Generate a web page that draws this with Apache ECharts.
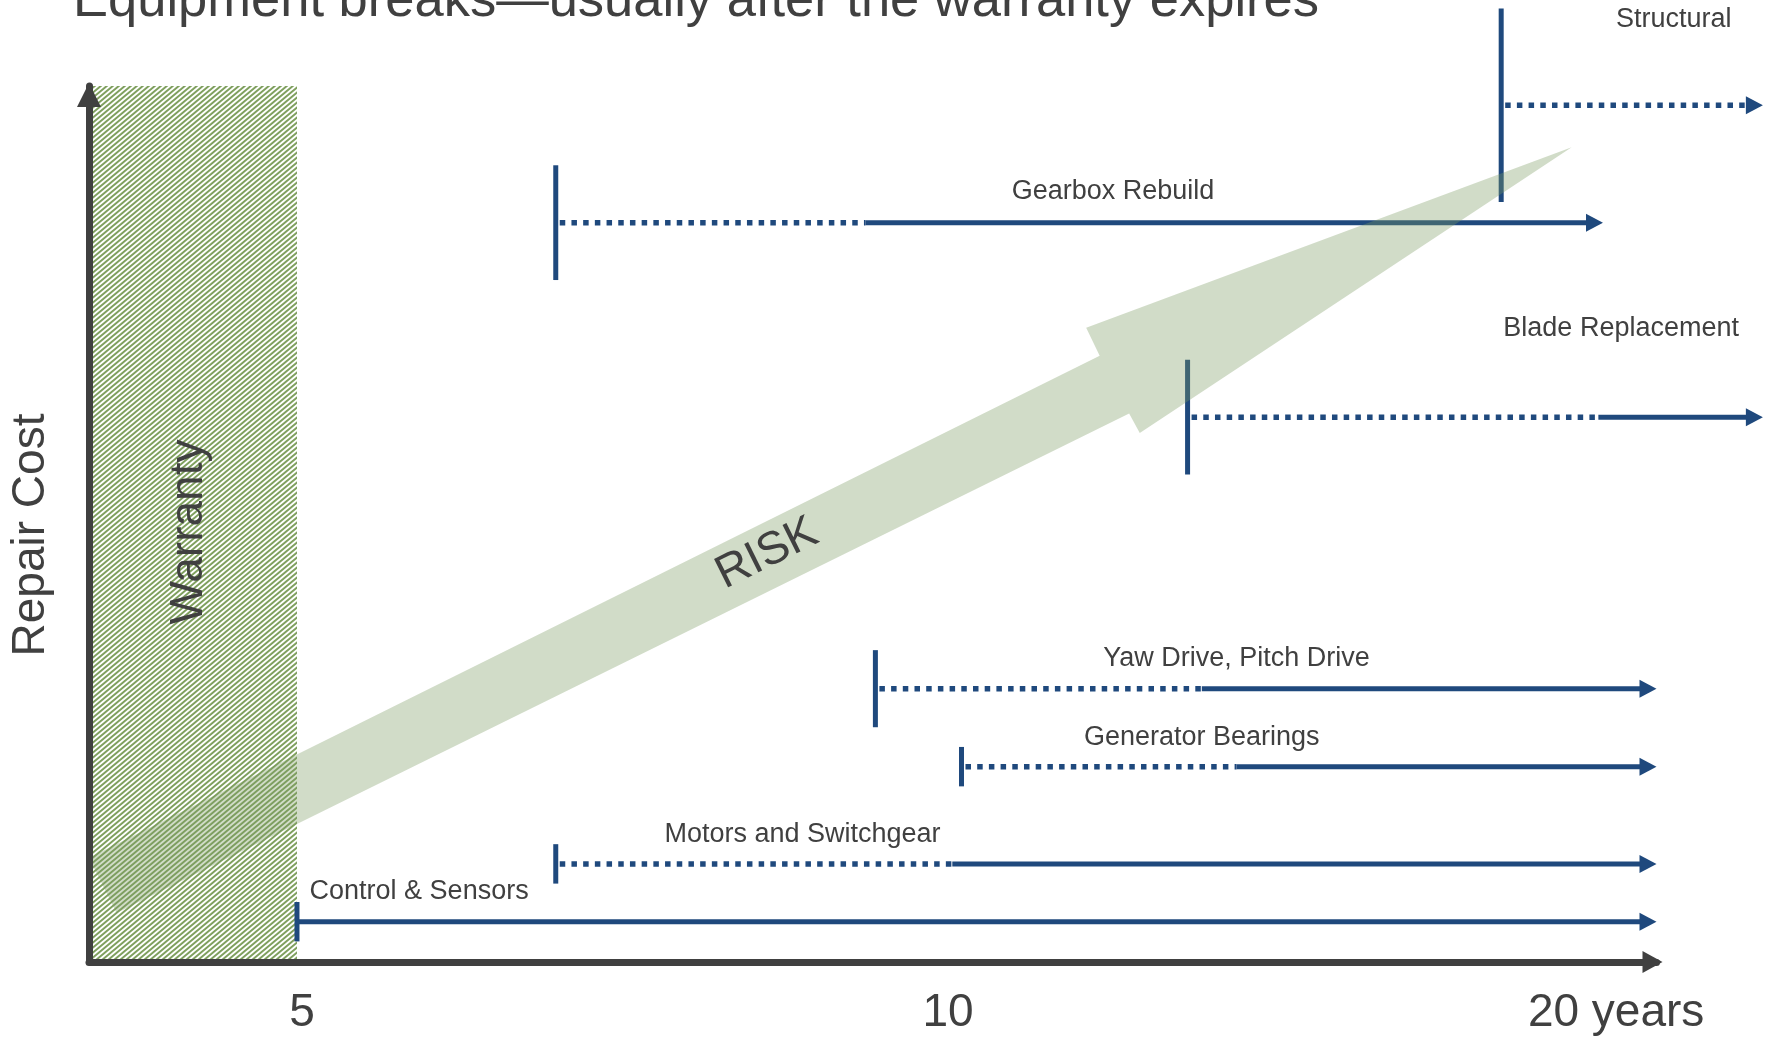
<!DOCTYPE html>
<html>
<head>
<meta charset="utf-8">
<script src="https://cdn.jsdelivr.net/npm/echarts@6/dist/echarts.min.js"></script>
<style>
  html, body { margin: 0; padding: 0; background: #ffffff; }
  #chart { width: 1773px; height: 1040px; }
</style>
</head>
<body>
<div id="chart"></div>
<script>
// Components and when they tend to fail (years in service) vs. their repair cost level
const components = ['Control & Sensors', 'Motors and Switchgear', 'Generator Bearings', 'Yaw Drive, Pitch Drive', 'Blade Replacement', 'Gearbox Rebuild', 'Structural'];
const repairCost = [0.46, 1.12, 2.23, 3.12, 6.22, 8.44, 9.78];
const costSpread = [0.45, 0.45, 0.45, 0.88, 1.31, 1.31, 2.21];
const firstFailureYear = [5, 6.6, 10.2, 9.3, 13.0, 6.6, 18.2];
const likelyFailureYear = [5, 10.1, 13.7, 13.2, 20.2, 9.2, null];
const horizonYear = [21.5, 21.5, 21.5, 21.5, 24.1, 20.3, 24.1];
const labelYear = [5.7, 8.6, 13.2, 13.7, 20.7, 12.0, 21.9];
const labelCost = [0.80, 1.46, 2.56, 3.46, 7.23, 8.79, 10.76];

// Axis ticks and the warranty period
const yearTicks = [5, 10, 20];
const yearTickLabels = ['5', '10', '20 years'];
const warrantyEndYear = 5;

// Outline of the rising RISK arrow (year, cost level)
const riskYear = [4.0, 11.83, 11.66, 19.63, 12.35, 12.21, 4.12];
const riskCost = [1.19, 6.92, 7.24, 9.30, 6.04, 6.26, 0.56];
const riskLabelAt = [8.28, 4.66];

const BLUE = '#1F497D';
const INK = '#404040';
const FONT = '"Liberation Sans", Arial, sans-serif';
const X_MIN = 4, X_MAX = 21.5, Y_MIN = 0, Y_MAX = 10;

// diagonal hatch used for the warranty band
const tile = document.createElement('canvas');
tile.width = 6; tile.height = 5;
(function () {
  const c = tile.getContext('2d');
  c.fillStyle = '#ffffff';
  c.fillRect(0, 0, 6, 5);
  c.strokeStyle = '#7FA05E';
  c.lineWidth = 2.0;
  c.beginPath();
  for (let k = -1; k <= 1; k++) {
    c.moveTo(-1.2 + 6 * k, 6); c.lineTo(7.2 + 6 * k, -1);
  }
  c.stroke();
})();

const componentData = components.map((name, i) => [
  firstFailureYear[i],
  repairCost[i],
  likelyFailureYear[i] == null ? horizonYear[i] : likelyFailureYear[i],
  horizonYear[i],
  costSpread[i],
  labelYear[i],
  labelCost[i]
]);

function renderWarranty(params, api) {
  const tl = api.coord([X_MIN, Y_MAX]);
  const br = api.coord([warrantyEndYear, Y_MIN]);
  return {
    type: 'group',
    children: [
      {
        type: 'rect',
        shape: { x: tl[0], y: tl[1], width: br[0] - tl[0], height: br[1] - tl[1] },
        style: { fill: { image: tile, repeat: 'repeat' } }
      },
      {
        type: 'text',
        x: (tl[0] + br[0]) / 2 - 4,
        y: (tl[1] + br[1]) / 2 + 8,
        rotation: Math.PI / 2,
        style: { text: 'Warranty', fill: INK, fontSize: 46, fontFamily: FONT, align: 'center', verticalAlign: 'middle' }
      }
    ]
  };
}

function renderComponent(params, api) {
  const i = params.dataIndex;
  const cost = api.value(1);
  const start = api.coord([api.value(0), cost]);
  const solid = api.coord([api.value(2), cost]);
  const end = api.coord([api.value(3), cost]);
  const top = api.coord([api.value(0), cost + api.value(4) / 2]);
  const bottom = api.coord([api.value(0), cost - api.value(4) / 2]);
  const lab = api.coord([api.value(5), api.value(6)]);
  const y = start[1];
  const headLen = 17, headHalf = 9;
  const base = end[0] - headLen;
  const children = [
    {
      type: 'line',
      shape: { x1: start[0], y1: top[1], x2: start[0], y2: bottom[1] },
      style: { stroke: BLUE, lineWidth: 5 }
    }
  ];
  if (solid[0] > start[0] + 1) {
    children.push({
      type: 'line',
      shape: { x1: start[0] + 4, y1: y, x2: Math.min(solid[0], base), y2: y },
      style: { stroke: BLUE, lineWidth: 5.5, lineDash: [5.5, 6.2] }
    });
  }
  if (base > solid[0]) {
    children.push({
      type: 'line',
      shape: { x1: solid[0], y1: y, x2: base + 1, y2: y },
      style: { stroke: BLUE, lineWidth: 5 }
    });
  }
  children.push({
    type: 'polygon',
    shape: { points: [[base, y - headHalf], [end[0], y], [base, y + headHalf]] },
    style: { fill: BLUE }
  });
  children.push({
    type: 'text',
    x: lab[0],
    y: lab[1],
    style: { text: components[i], fill: INK, fontSize: 27, fontFamily: FONT, align: 'center', verticalAlign: 'middle' }
  });
  return { type: 'group', children: children };
}

function renderRisk(params, api) {
  const pts = riskYear.map((yr, k) => api.coord([yr, riskCost[k]]));
  const p0 = pts[0], p1 = pts[1];
  const angle = Math.atan2(p0[1] - p1[1], p1[0] - p0[0]);
  const c = api.coord(riskLabelAt);
  return {
    type: 'group',
    children: [
      {
        type: 'polygon',
        shape: { points: pts },
        style: { fill: 'rgba(124,155,98,0.35)' }
      },
      {
        type: 'text',
        x: c[0],
        y: c[1],
        rotation: angle,
        style: { text: 'RISK', fill: INK, fontSize: 46, fontFamily: FONT, align: 'center', verticalAlign: 'middle' }
      }
    ]
  };
}

const chart = echarts.init(document.getElementById('chart'), null, { renderer: 'canvas' });
chart.setOption({
  animation: false,
  backgroundColor: '#ffffff',
  title: {
    text: 'Equipment breaks\u2014usually after the warranty expires',
    left: 68,
    top: -30,
    textStyle: { fontSize: 52.5, fontWeight: 'normal', color: INK, fontFamily: FONT }
  },
  grid: { left: 88, right: 116.5, top: 86, bottom: 78, containLabel: false },
  xAxis: {
    type: 'log',
    logBase: 2,
    min: X_MIN,
    max: X_MAX,
    z: 10,
    splitLine: { show: false },
    axisTick: { show: false },
    axisLine: {
      onZero: false,
      symbol: ['none', 'triangle'],
      symbolSize: [22, 20],
      symbolOffset: [0, -4],
      lineStyle: { color: INK, width: 7 }
    },
    axisLabel: {
      customValues: yearTicks,
      formatter: function (v) {
        const k = yearTicks.findIndex(t => Math.abs(t - v) < 1e-6);
        return k === 2 ? '{far|' + yearTickLabels[k] + '}' : (k >= 0 ? yearTickLabels[k] : '');
      },
      rich: { far: { fontSize: 46, color: INK, fontFamily: FONT, padding: [0, 0, 0, 44] } },
      margin: 28,
      fontSize: 46,
      color: INK,
      fontFamily: FONT,
      padding: [0, 0, 0, 10]
    }
  },
  yAxis: {
    type: 'value',
    min: Y_MIN,
    max: Y_MAX,
    z: 10,
    name: 'Repair Cost',
    nameLocation: 'middle',
    nameGap: 35,
    nameTextStyle: { fontSize: 46, color: INK, fontFamily: FONT, padding: [0, 22, 0, 0] },
    splitLine: { show: false },
    axisTick: { show: false },
    axisLabel: { show: false },
    axisLine: {
      onZero: false,
      symbol: ['none', 'triangle'],
      symbolSize: [24, 24],
      symbolOffset: [0, -9],
      lineStyle: { color: INK, width: 7 }
    }
  },
  series: [
    {
      name: 'Warranty',
      type: 'custom',
      clip: false,
      z: 1,
      renderItem: renderWarranty,
      data: [[X_MIN, warrantyEndYear]]
    },
    {
      name: 'Components',
      type: 'custom',
      clip: false,
      z: 3,
      renderItem: renderComponent,
      encode: { x: [0, 2, 3], y: 1 },
      data: componentData
    },
    {
      name: 'Risk',
      type: 'custom',
      clip: false,
      z: 4,
      renderItem: renderRisk,
      data: [[riskLabelAt[0], riskLabelAt[1]]]
    }
  ]
});
</script>
</body>
</html>
